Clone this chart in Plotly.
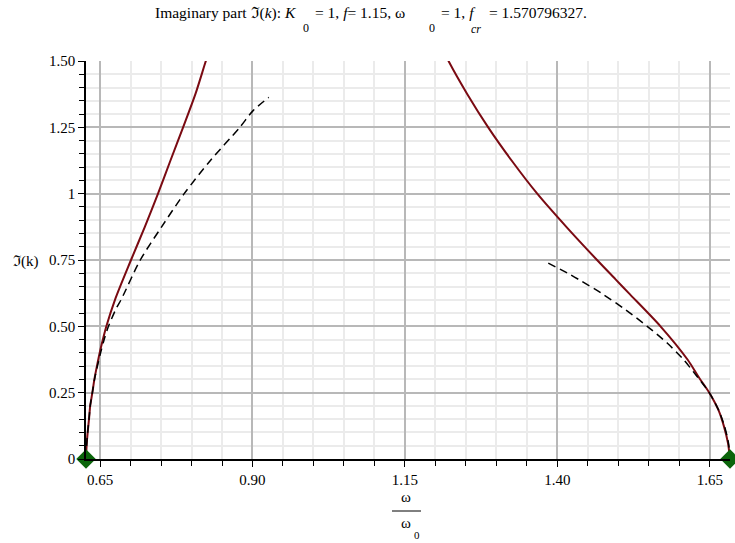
import plotly.graph_objects as go

# Lower branch of the gap: exact Im k (solid) and band-edge approximation (dashed)
w_low_exact = [0.6270, 0.6280, 0.6298, 0.6320, 0.6340, 0.6375, 0.6408, 0.6450,
               0.6495, 0.6549, 0.6605, 0.6745, 0.7008, 0.7233, 0.7451, 0.7655,
               0.7862, 0.8065, 0.8235, 0.8260]
k_low_exact = [0.000, 0.051, 0.102, 0.152, 0.202, 0.251, 0.301, 0.351,
               0.401, 0.452, 0.501, 0.600, 0.750, 0.874, 1.000, 1.125,
               1.250, 1.376, 1.500, 1.516]

w_low_approx = [0.6270, 0.6280, 0.6298, 0.6320, 0.6340, 0.6375, 0.6410, 0.6458,
                0.6510, 0.6570, 0.6640, 0.6769, 0.6845, 0.7160, 0.7507, 0.7880,
                0.8310, 0.8792, 0.9010, 0.9267]
k_low_approx = [0.000, 0.051, 0.102, 0.152, 0.202, 0.251, 0.301, 0.351,
                0.401, 0.452, 0.501, 0.569, 0.600, 0.750, 0.874, 1.000,
                1.125, 1.250, 1.313, 1.363]

# Upper branch of the gap
w_up_exact = [1.2182, 1.2215, 1.2520, 1.2865, 1.3249, 1.3669, 1.4150, 1.4650,
              1.4950, 1.5170, 1.5690, 1.6136, 1.6310, 1.6490, 1.6638, 1.6731,
              1.6797, 1.6830]
k_up_exact = [1.516, 1.500, 1.376, 1.250, 1.125, 1.000, 0.874, 0.750,
              0.678, 0.625, 0.500, 0.374, 0.311, 0.250, 0.186, 0.123,
              0.060, 0.000]

w_up_approx = [1.3850, 1.4170, 1.4360, 1.4720, 1.5120, 1.5472, 1.5800, 1.6070,
               1.6290, 1.6490, 1.6640, 1.6740, 1.6805, 1.6830]
k_up_approx = [0.738, 0.700, 0.675, 0.625, 0.562, 0.500, 0.437, 0.374,
               0.311, 0.250, 0.186, 0.123, 0.060, 0.000]

# Band edges
edge_w = [0.627, 1.683]
edge_k = [0.0, 0.0]

x_range = [0.627, 1.683]
y_range = [0.0, 1.5]
x_major = [0.65, 0.90, 1.15, 1.40, 1.65]
x_major_text = ["0.65", "0.90", "1.15", "1.40", "1.65"]
y_major = [0.0, 0.25, 0.50, 0.75, 1.0, 1.25, 1.50]
y_major_text = ["0", "0.25", "0.50", "0.75", "1", "1.25", "1.50"]
x_minor = [round(0.65 + 0.05 * i, 2) for i in range(21)]
y_minor = [round(0.05 * i, 2) for i in range(31)]

W, H = 735, 543
L, R, T, B = 86, 5, 61, 84
PW, PH = W - L - R, H - T - B


def px_x(x):
    return (x - L) / PW


def px_y(y):
    return (H - B - y) / PH


SERIF = "Liberation Serif, DejaVu Serif, Times New Roman, serif"
EXACT = "#7a0a12"
SMOOTH = dict(shape="spline", smoothing=0.8)

fig = go.Figure()
fig.add_trace(go.Scatter(x=w_low_exact, y=k_low_exact, mode="lines",
                         line=dict(color=EXACT, width=2, **SMOOTH), showlegend=False))
fig.add_trace(go.Scatter(x=w_up_exact, y=k_up_exact, mode="lines",
                         line=dict(color=EXACT, width=2, **SMOOTH), showlegend=False))
fig.add_trace(go.Scatter(x=w_low_approx, y=k_low_approx, mode="lines",
                         line=dict(color="black", width=1.5, dash="8px,5px", **SMOOTH),
                         showlegend=False))
fig.add_trace(go.Scatter(x=w_up_approx, y=k_up_approx, mode="lines",
                         line=dict(color="black", width=1.5, dash="8px,5px", **SMOOTH),
                         showlegend=False))
fig.add_trace(go.Scatter(x=edge_w, y=edge_k, mode="markers", cliponaxis=False,
                         marker=dict(symbol="diamond", size=15, color="#0b650b",
                                     line=dict(width=0)),
                         showlegend=False))

axis_common = dict(
    showline=True, linecolor="black", linewidth=1.5, mirror=False,
    ticks="outside", ticklen=6, tickwidth=1, tickcolor="black",
    showgrid=True, gridcolor="#b8b8b8", gridwidth=1.5, zeroline=False,
    tickfont=dict(family=SERIF, size=15, color="black"),
    automargin=False, fixedrange=True,
)

fig.update_xaxes(
    range=x_range, tickmode="array", tickvals=x_major, ticktext=x_major_text,
    minor=dict(tickmode="array", tickvals=x_minor, ticks="outside", ticklen=5,
               tickcolor="black", showgrid=True, gridcolor="#ebebeb", gridwidth=1.5),
    **axis_common,
)
fig.update_yaxes(
    range=y_range, tickmode="array", tickvals=y_major, ticktext=y_major_text,
    minor=dict(tickmode="array", tickvals=y_minor, ticks="outside", ticklen=5,
               tickcolor="black", showgrid=True, gridcolor="#ebebeb", gridwidth=1.5),
    **axis_common,
)

annotations = []


def text_at(x, y, s, size=15, xanchor="center"):
    annotations.append(dict(x=px_x(x), y=px_y(y), xref="paper", yref="paper",
                            text=s, showarrow=False, xanchor=xanchor,
                            yanchor="middle",
                            font=dict(family=SERIF, size=size, color="black")))


# Title, with the subscripts dropped well below the line
TS = 15.5
text_at(153, 13, "Imaginary part ℑ(<i>k</i>): <i>K</i>", TS, "left")
text_at(306, 28, "0", 12)
text_at(313, 13, "= 1, <i>f</i>= 1.15, ω", TS, "left")
text_at(432, 28, "0", 12)
text_at(439, 13, "= 1, <i>f</i>", TS, "left")
text_at(476, 29, "<i>cr</i>", 12)
text_at(487, 13, "= 1.570796327.", TS, "left")

# Vertical axis label
text_at(26, 261, "ℑ(k)", 15)

# Horizontal axis label: ω / ω0 as a fraction
text_at(406, 497, "ω", 15)
text_at(406, 523, "ω", 15)
text_at(417, 535, "0", 11)

fig.update_layout(
    width=W, height=H,
    margin=dict(l=L, r=R, t=T, b=B, pad=0),
    paper_bgcolor="white", plot_bgcolor="white",
    template="none",
    annotations=annotations,
    shapes=[dict(type="line", xref="paper", yref="paper",
                 x0=px_x(392), x1=px_x(421), y0=px_y(511), y1=px_y(511),
                 line=dict(color="black", width=1))],
)

fig.write_html("out.html")
